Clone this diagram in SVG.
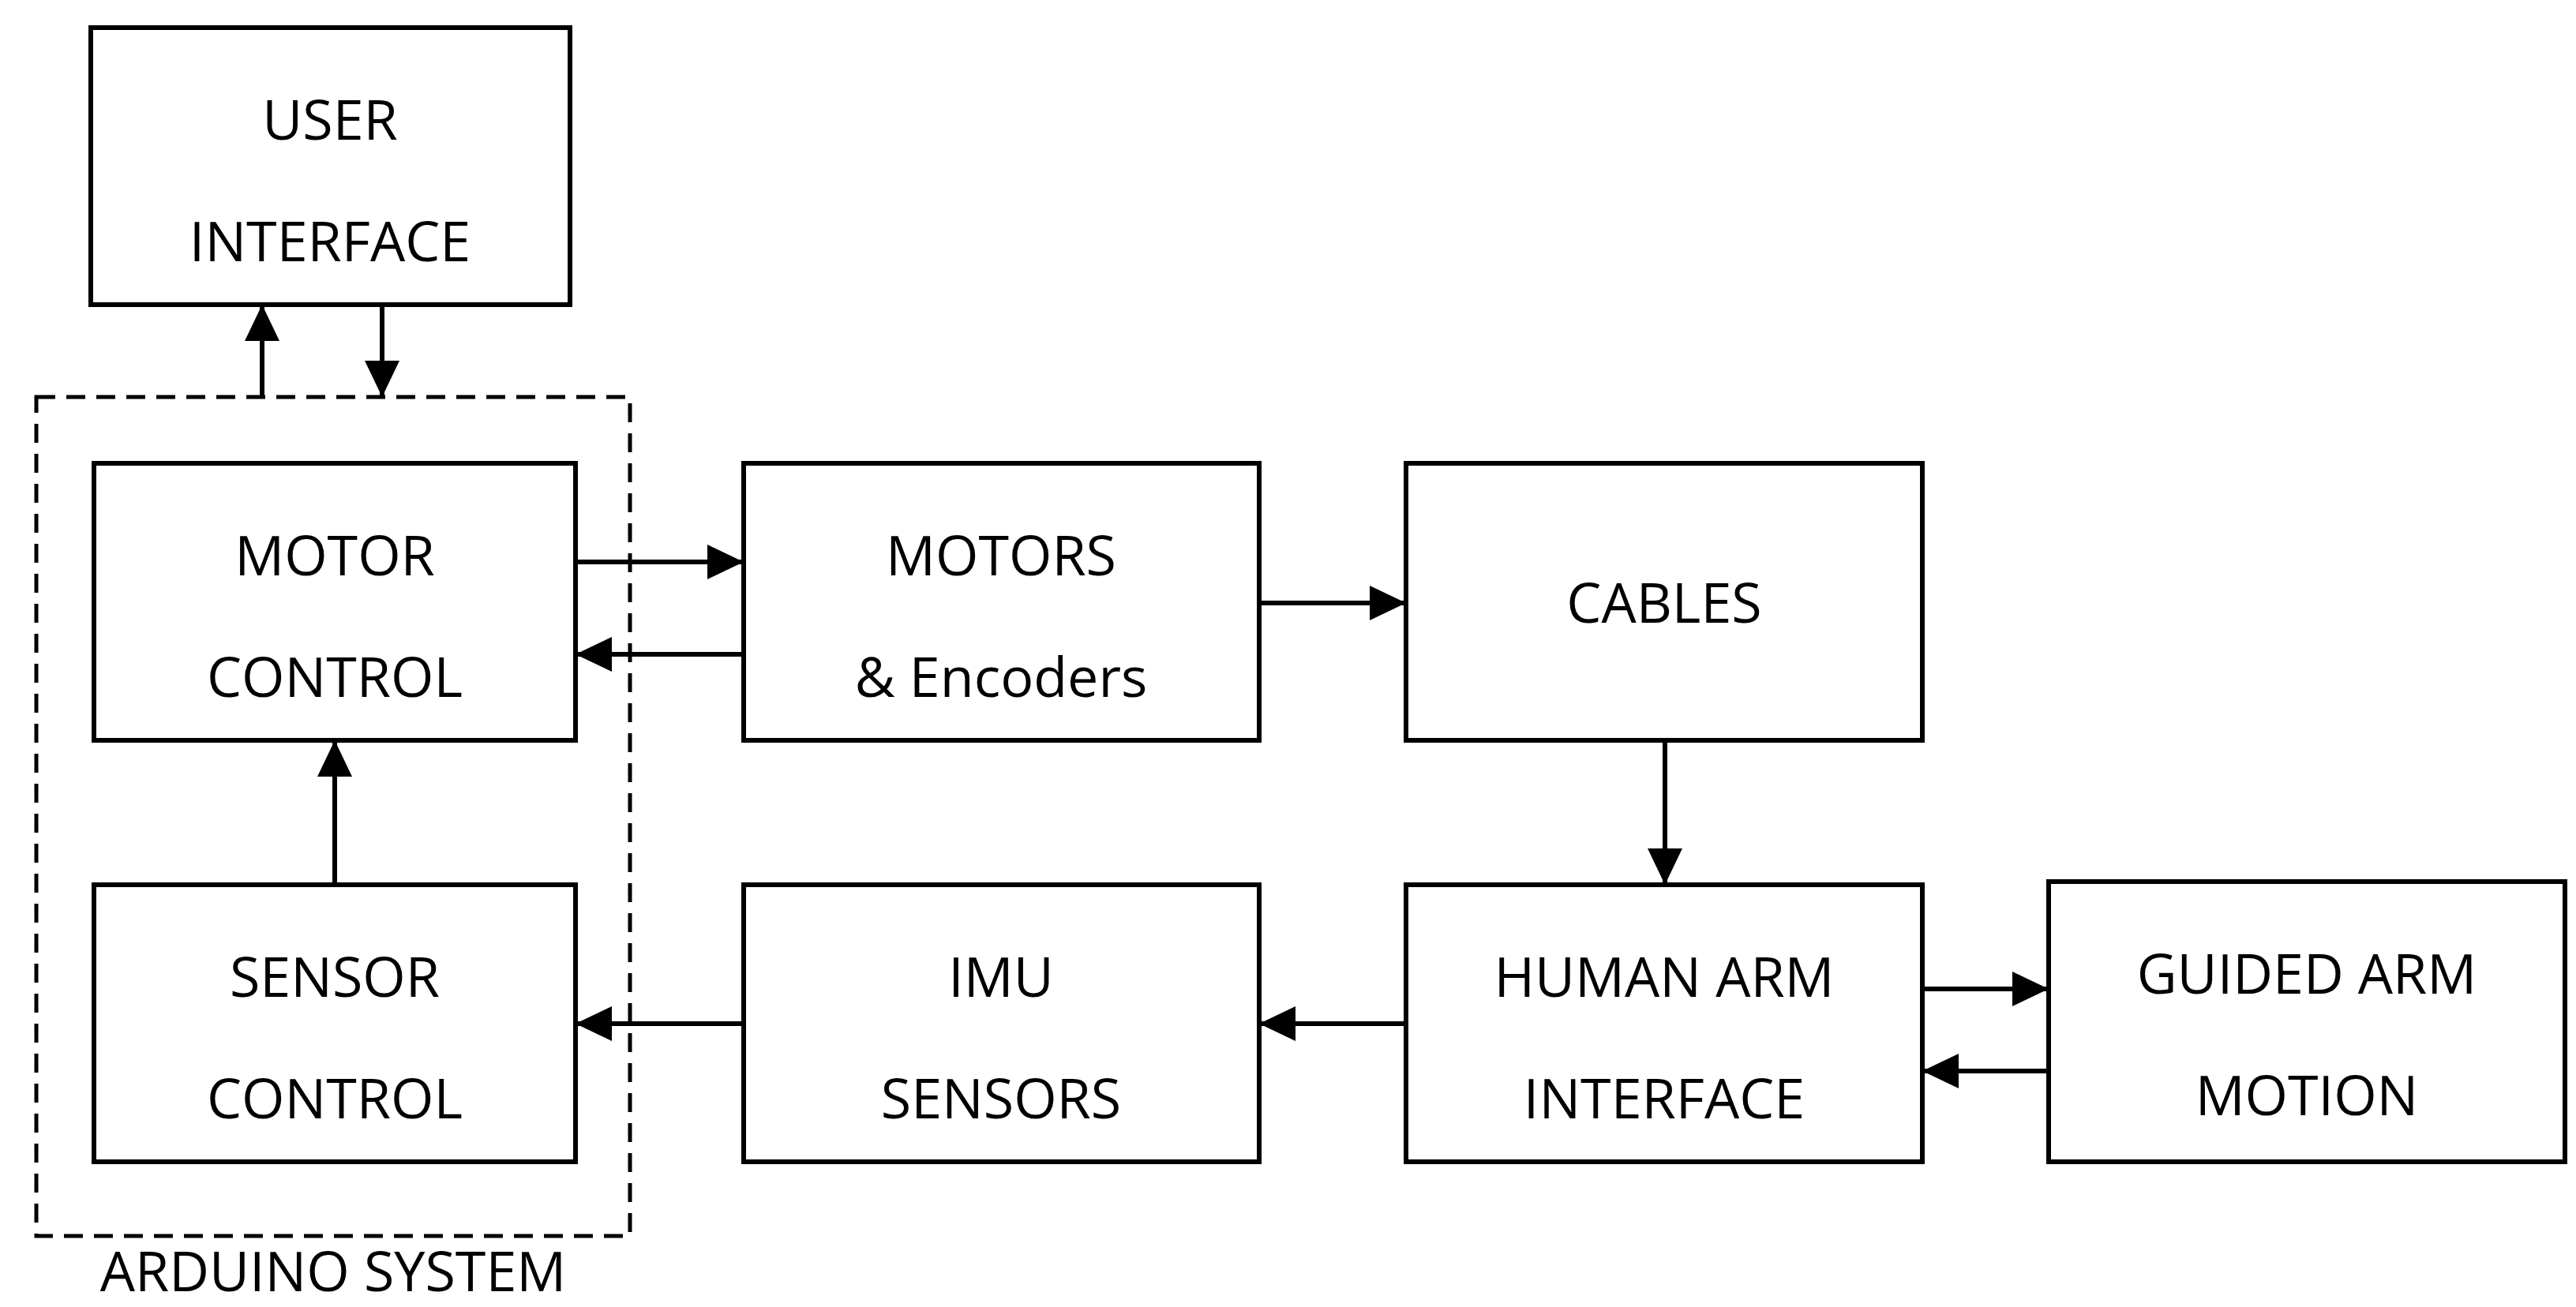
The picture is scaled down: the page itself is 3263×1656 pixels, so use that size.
<svg xmlns="http://www.w3.org/2000/svg" width="3263" height="1656" viewBox="0 0 3263 1656">
<style>
.b{fill:#fff;stroke:#000;stroke-width:6}
.t{font-family:"Open Sans","Liberation Sans",sans-serif;font-size:70px;text-anchor:middle;fill:#000}
.c{stroke:#000;stroke-width:6;fill:none;marker-end:url(#a)}
</style>
<defs><marker id="a" markerUnits="userSpaceOnUse" markerWidth="48" markerHeight="44" refX="46" refY="22" orient="auto"><path d="M0,0L46,22L0,44Z" fill="#000"/></marker></defs>
<rect width="3263" height="1656" fill="#fff"/>
<g id="arduino"><rect x="46" y="503" width="752" height="1063" fill="none" stroke="#000" stroke-width="5" stroke-dasharray="24,14"/><text class="t" x="422" y="1636">ARDUINO SYSTEM</text></g>
<g id="ui"><rect class="b" x="115" y="35" width="607" height="351"/><text class="t" x="418" y="177">USER</text><text class="t" x="418" y="331">INTERFACE</text></g>
<g id="mc"><rect class="b" x="119" y="587" width="610" height="351"/><text class="t" x="424" y="729">MOTOR</text><text class="t" x="424" y="883">CONTROL</text></g>
<g id="sc"><rect class="b" x="119" y="1121" width="610" height="351"/><text class="t" x="424" y="1263">SENSOR</text><text class="t" x="424" y="1417">CONTROL</text></g>
<g id="motors"><rect class="b" x="942" y="587" width="653" height="351"/><text class="t" x="1268" y="729">MOTORS</text><text class="t" x="1268" y="883">&amp; Encoders</text></g>
<g id="cables"><rect class="b" x="1781" y="587" width="654" height="351"/><text class="t" x="2108" y="789">CABLES</text></g>
<g id="imu"><rect class="b" x="942" y="1121" width="653" height="351"/><text class="t" x="1268" y="1263">IMU</text><text class="t" x="1268" y="1417">SENSORS</text></g>
<g id="human"><rect class="b" x="1781" y="1121" width="654" height="351"/><text class="t" x="2108" y="1263">HUMAN ARM</text><text class="t" x="2108" y="1417">INTERFACE</text></g>
<g id="guided"><rect class="b" x="2595" y="1117" width="654" height="355"/><text class="t" x="2922" y="1259">GUIDED ARM</text><text class="t" x="2922" y="1413">MOTION</text></g>
<g id="connectors">
<path class="c" d="M332,503V386"/>
<path class="c" d="M484,386V503"/>
<path class="c" d="M729,712H942"/>
<path class="c" d="M942,829H729"/>
<path class="c" d="M1595,764H1781"/>
<path class="c" d="M2109,938V1121"/>
<path class="c" d="M1781,1297H1595"/>
<path class="c" d="M942,1297H729"/>
<path class="c" d="M424,1121V938"/>
<path class="c" d="M2435,1253H2595"/>
<path class="c" d="M2595,1357H2435"/>
</g>
</svg>
